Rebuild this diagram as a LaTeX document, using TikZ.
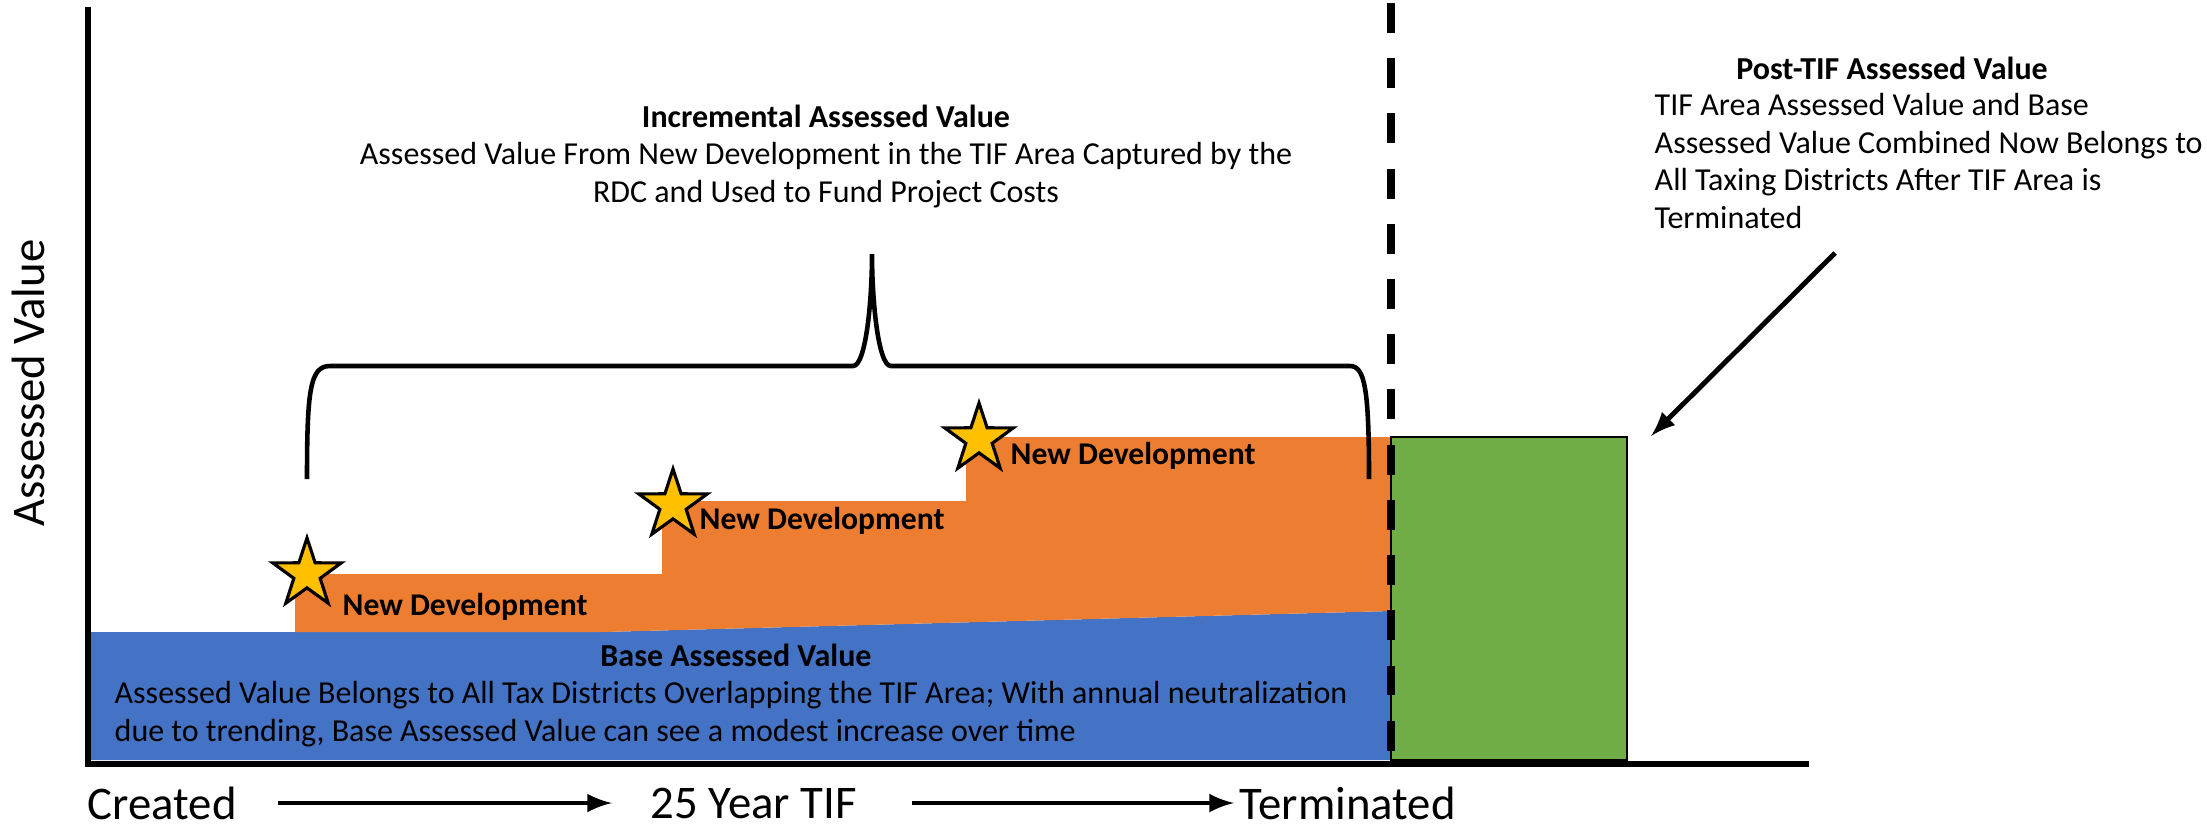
\documentclass[tikz,border=0pt]{standalone}
\usepackage{fontspec}
\setmainfont{Carlito}
\usepackage{tikz}
\usetikzlibrary{calc, arrows, shapes.geometric}
\tikzset{>=latex}
\definecolor{baseblue}{HTML}{4472C4}
\definecolor{incorange}{HTML}{ED7D31}
\definecolor{postgreen}{HTML}{70AD47}
\definecolor{staryellow}{HTML}{FFC000}
\newcommand{\smalltext}{\fontsize{9.1}{10.7}\selectfont}
\newcommand{\bigtext}{\fontsize{13.3}{16}\selectfont}
\tikzset{
  devstar/.style = {star, star points = 5, star point ratio = 2.6, minimum size = 0.72cm, inner sep = 0pt, fill = staryellow, draw = black, line width = 0.9pt},
  devlabel/.style = {anchor = west, inner sep = 0pt, font = \fontsize{9}{11}\selectfont\bfseries},
  note/.style = {inner sep = 0pt, font = \smalltext},
  timeline/.style = {->, line width = 1.4pt}
}

\begin{document}
\begin{tikzpicture}[x = 0.01cm, y = -0.01cm]
\useasboundingbox (0,0) rectangle (2207,829);
\fill[baseblue] (88,632) -- (602,632) -- (1391,611) -- (1391,760) -- (88,760) -- cycle;
\fill[incorange] (295,632) -- (295,574) -- (662,574) -- (662,501) -- (966,501) -- (966,437) -- (1391,437) -- (1391,611) -- (602,632) -- cycle;
\draw[fill = postgreen, line width = 0.8pt] (1391,437) rectangle (1627,760);
\draw[line width = 2.3pt, dash pattern = on 8.5pt off 7.2pt] (1391,3) -- (1391,762);
\draw[line width = 1.8pt] (88,7) -- (88,764) -- (1809,764);
% brace over the increment
\draw[line width = 1.3pt] (307,479) .. controls (307,390) and (310,366) .. (330,366) -- (853,366) .. controls (866,366) and (872,300) .. (872,254) .. controls (872,300) and (878,366) .. (891,366) -- (1350,366) .. controls (1365,366) and (1369,390) .. (1369,479);
\node[devstar] (star1) at (307,574) {};
\node[devstar] (star2) at (673,505) {};
\node[devstar] (star3) at (979,439) {};
\node[devlabel] (dev1) at (342,607) {New Development};
\node[devlabel] (dev2) at (699,521) {New Development};
\node[devlabel] (dev3) at (1010,456) {New Development};
\node[note, font = \smalltext\bfseries] (inctitle) at (826,116) {Incremental Assessed Value};
\node[note, align = center] (incbody) at (826,175) {Assessed Value From New Development in the TIF Area Captured by the\\ RDC and Used to Fund Project Costs};
\node[note, font = \smalltext\bfseries] (basetitle) at (736,655) {Base Assessed Value};
\node[note, align = left, anchor = west] (basebody) at (114,714) {Assessed Value Belongs to All Tax Districts Overlapping the TIF Area; With annual neutralization\\ due to trending, Base Assessed Value can see a modest increase over time};
\node[note, font = \smalltext\bfseries] (posttitle) at (1892,68) {Post-TIF Assessed Value};
\node[note, align = left, anchor = west] (postbody) at (1654,161) {TIF Area Assessed Value and Base\\ Assessed Value Combined Now Belongs to\\ All Taxing Districts After TIF Area is\\ Terminated};
\coordinate (postfrom) at (1835,253);
\coordinate (postto) at (1651,436);
\draw[->, line width = 1.4pt] (postfrom) -- (postto);
\node[rotate = 90, font = \bigtext] (ylabel) at (28,383) {Assessed Value};
\node[anchor = west, inner sep = 0pt, font = \bigtext] (created) at (87,803) {Created};
\node[anchor = west, inner sep = 0pt, font = \bigtext] (yeartif) at (650,803) {25 Year TIF};
\node[anchor = west, inner sep = 0pt, font = \bigtext] (terminated) at (1239,803) {Terminated};
\draw[timeline, shorten <= 11.7pt, shorten >= 10.8pt] (created.east) -- (created.east -| yeartif.west);
\draw[timeline, shorten <= 15.6pt, shorten >= 1.4pt] (yeartif.east) -- (yeartif.east -| terminated.west);
\end{tikzpicture}
\end{document}
